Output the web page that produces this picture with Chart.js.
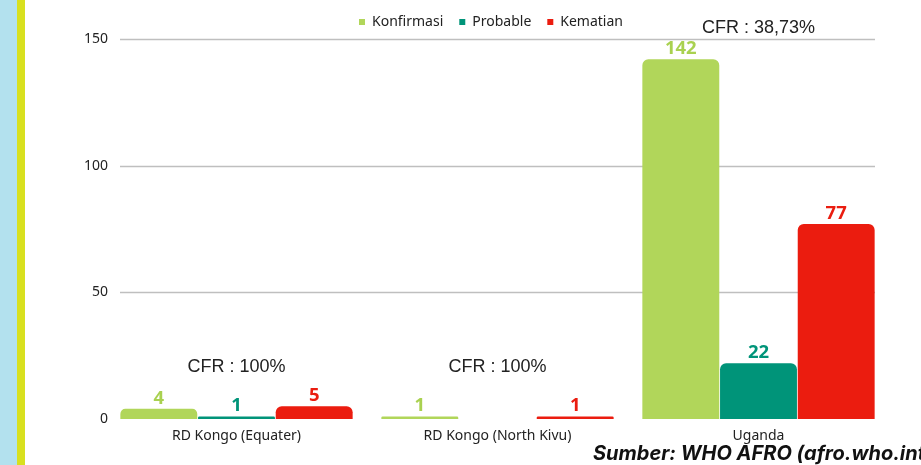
<!DOCTYPE html>
<html>
<head>
<meta charset="utf-8">
<script src="https://cdn.jsdelivr.net/npm/chart.js@4.4.1/dist/chart.umd.min.js"></script>
<style>
  html, body { margin: 0; padding: 0; width: 921px; height: 465px; overflow: hidden; background: #fff; position: relative; }
  .strip-blue { position: absolute; left: 0; top: 0; width: 17px; height: 465px; background: #b3e1ee; }
  .strip-yellow { position: absolute; left: 17px; top: 0; width: 8px; height: 465px; background: #d8e01f; }
  #wrap { position: absolute; left: 25px; top: 0; width: 932px; height: 465px; }
  .source { position: absolute; left: 593px; top: 441px; white-space: nowrap; font-family: Inter, "Noto Sans", sans-serif; font-weight: 700; font-style: italic; font-size: 20px; color: #111; }
</style>
</head>
<body>
<div class="strip-blue"></div>
<div class="strip-yellow"></div>
<div id="wrap"><canvas id="chart"></canvas></div>
<div class="source">Sumber: WHO AFRO (afro.who.int)</div>
<script>
// data
var regions = ['RD Kongo (Equater)', 'RD Kongo (North Kivu)', 'Uganda'];
var konfirmasi = [4, 1, 142];
var probable = [1, 0, 22];
var kematian = [5, 1, 77];
var cfrLabels = ['CFR : 100%', 'CFR : 100%', 'CFR : 38,73%'];
var yTicks = [0, 50, 100, 150];

var green = '#b1d65a', teal = '#009479', red = '#eb1c0f';

// gridlines + y labels drawn by hand (lines sit a bit inside the plot area like the original)
var gridPlugin = {
    id: 'gridLines',
    beforeDatasetsDraw: function(chart) {
        var ctx = chart.ctx, y = chart.scales.y, a = chart.chartArea;
        ctx.save();
        ctx.strokeStyle = '#bfbfbf';
        ctx.lineWidth = 1.5;
        ctx.fillStyle = '#222';
        ctx.font = '14px "Noto Sans", sans-serif';
        ctx.textAlign = 'right';
        ctx.textBaseline = 'middle';
        yTicks.forEach(function(t) {
            var py = Math.round(y.getPixelForValue(t)) + 0.5;
            ctx.fillText(t, a.left + 2, py);
            if (t === 0) return;
            ctx.beginPath();
            ctx.moveTo(a.left + 14, py);
            ctx.lineTo(a.right - 14, py);
            ctx.stroke();
        });
        ctx.restore();
    }
};

// value labels above bars + CFR notes
var labelPlugin = {
    id: 'valueLabels',
    afterDatasetsDraw: function(chart) {
        var ctx = chart.ctx;
        ctx.save();
        ctx.textAlign = 'center';
        ctx.textBaseline = 'alphabetic';
        ctx.font = 'bold 18.5px "Open Sans", "Noto Sans", sans-serif';
        chart.data.datasets.forEach(function(ds, i) {
            var meta = chart.getDatasetMeta(i);
            meta.data.forEach(function(bar, j) {
                var v = ds.data[j];
                if (!v) return;
                ctx.fillStyle = ds.labelColor;
                ctx.fillText(v, bar.x, bar.y - 5);
            });
        });
        var x = chart.scales.x, y = chart.scales.y;
        ctx.font = '18px "Liberation Sans", Arial, sans-serif';
        ctx.fillStyle = '#222';
        ctx.textBaseline = 'middle';
        var cfrAt = [20.5, 20.5, 154.5];
        cfrLabels.forEach(function(txt, j) {
            ctx.fillText(txt, x.getPixelForValue(j), y.getPixelForValue(cfrAt[j]));
        });
        ctx.restore();
    }
};

var ctx = document.getElementById('chart');
new Chart(ctx, {
    type: 'bar',
    data: {
        labels: regions,
        datasets: [
            { label: 'Konfirmasi', data: konfirmasi, backgroundColor: green, labelColor: '#a9d150' },
            { label: 'Probable', data: probable, backgroundColor: teal, labelColor: '#009479' },
            { label: 'Kematian', data: kematian, backgroundColor: red, labelColor: '#ea1d10' }
        ]
    },
    options: {
        responsive: true,
        maintainAspectRatio: false,
        animation: false,
        datasets: {
            bar: {
                categoryPercentage: 0.893,
                barPercentage: 0.99,
                borderRadius: { topLeft: 6, topRight: 6 },
                borderSkipped: 'bottom'
            }
        },
        layout: { padding: { top: -1, right: 68, left: 68, bottom: 0 } },
        plugins: {
            legend: {
                position: 'top',
                labels: {
                    boxWidth: 6,
                    boxHeight: 6,
                    padding: 16,
                    color: '#222',
                    font: { family: '"Noto Sans", sans-serif', size: 14 }
                }
            },
            tooltip: { enabled: false }
        },
        scales: {
            x: {
                grid: { display: false, drawTicks: false },
                border: { display: false },
                ticks: { color: '#222', padding: 9, font: { family: '"Noto Sans", sans-serif', size: 14 } },
                afterFit: function(s) { s.height = 46; }
            },
            y: {
                min: 0,
                max: 150,
                grid: { display: false, drawTicks: false },
                border: { display: false },
                ticks: { display: false },
                afterFit: function(s) { s.width = 13; }
            }
        }
    },
    plugins: [gridPlugin, labelPlugin]
});
</script>
</body>
</html>
